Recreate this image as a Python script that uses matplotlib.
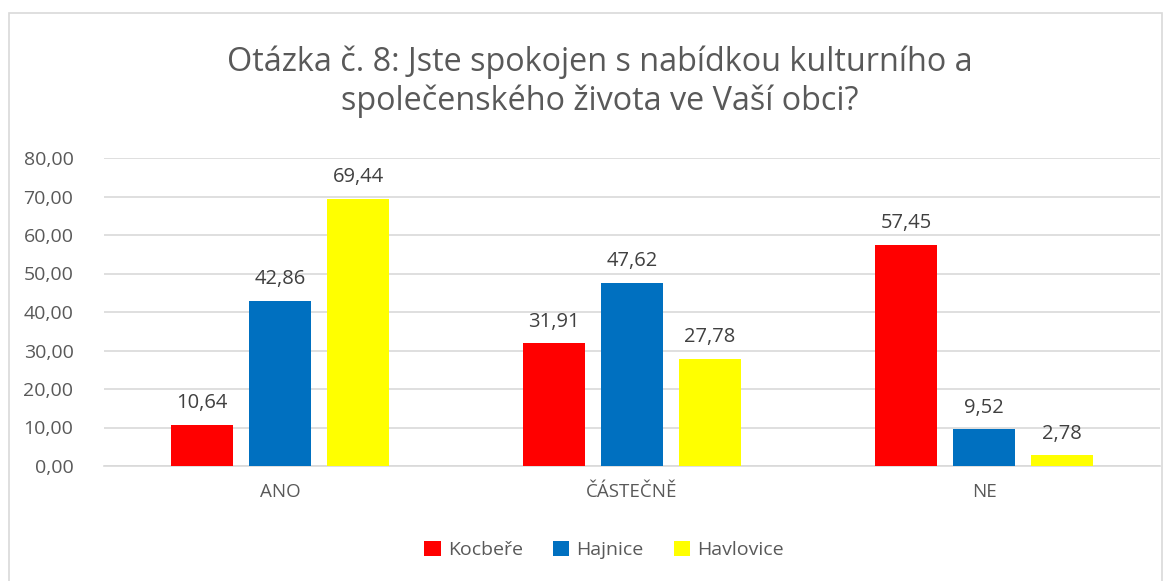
import numpy as np
import matplotlib.pyplot as plt
from matplotlib.patches import Rectangle

# --- Data ---
kategorie = ["ANO", "ČÁSTEČNĚ", "NE"]
obce = ["Kocbeře", "Hajnice", "Havlovice"]
kocbere = [10.64, 31.91, 57.45]
hajnice = [42.86, 47.62, 9.52]
havlovice = [69.44, 27.78, 2.78]
barvy = ["#ff0000", "#0070c0", "#ffff00"]

plt.rcParams['font.family'] = ['Open Sans', 'DejaVu Sans']

fig = plt.figure(figsize=(11.74, 5.81), dpi=100)
ax = fig.add_axes([104 / 1174, 1 - 466 / 581, (1160 - 104) / 1174, (466 - 158) / 581])

# rámeček grafu
fig.patches.append(Rectangle((9 / 1174, -0.1), (1162 - 9) / 1174, 1.1 - 13 / 581,
                             transform=fig.transFigure, fill=False,
                             edgecolor="#d9d9d9", linewidth=1.2))

x = np.arange(len(kategorie))
sirka = 0.176
krok = 0.2216
for i, (hodnoty, nazev) in enumerate(zip([kocbere, hajnice, havlovice], obce)):
    pozice = x + (i - 1) * krok
    bars = ax.bar(pozice, hodnoty, sirka, color=barvy[i], label=nazev, zorder=3)
    for b, v in zip(bars, hodnoty):
        ax.text(b.get_x() + b.get_width() / 2, v + 3.0, f"{v:.2f}".replace(".", ","),
                ha="center", va="bottom", fontsize=14.5, color="#404040")

ax.set_xlim(-0.5, 2.5)
ax.set_ylim(0, 80)
ax.set_yticks(np.arange(0, 81, 10))
ax.set_yticklabels([f"{v:.2f}".replace(".", ",") for v in np.arange(0, 81, 10)])
ax.set_xticks(x)
ax.set_xticklabels(kategorie)
ax.tick_params(axis="y", length=0, pad=22, labelsize=14, labelcolor="#595959")
ax.tick_params(axis="x", length=0, pad=12, labelsize=13.5, labelcolor="#595959")
ax.grid(axis="y", color="#d9d9d9", linewidth=1.2, zorder=0)
for s in ["top", "right", "left"]:
    ax.spines[s].set_visible(False)
ax.spines["bottom"].set_color("#d9d9d9")
ax.spines["bottom"].set_linewidth(1.2)

fig.text(600 / 1174, 1 - 82 / 581,
         "Otázka č. 8: Jste spokojen s nabídkou kulturního a\nspolečenského života ve Vaší obci?",
         ha="center", va="center", fontsize=23.3, color="#595959", linespacing=1.2)

fig.legend(loc="center", bbox_to_anchor=(604 / 1174, 1 - 550 / 581), ncol=3,
           frameon=False, fontsize=14, handlelength=0.85, handleheight=0.85,
           handletextpad=0.35, columnspacing=1.55, labelcolor="#595959")

fig.savefig("out.png", dpi=100)
